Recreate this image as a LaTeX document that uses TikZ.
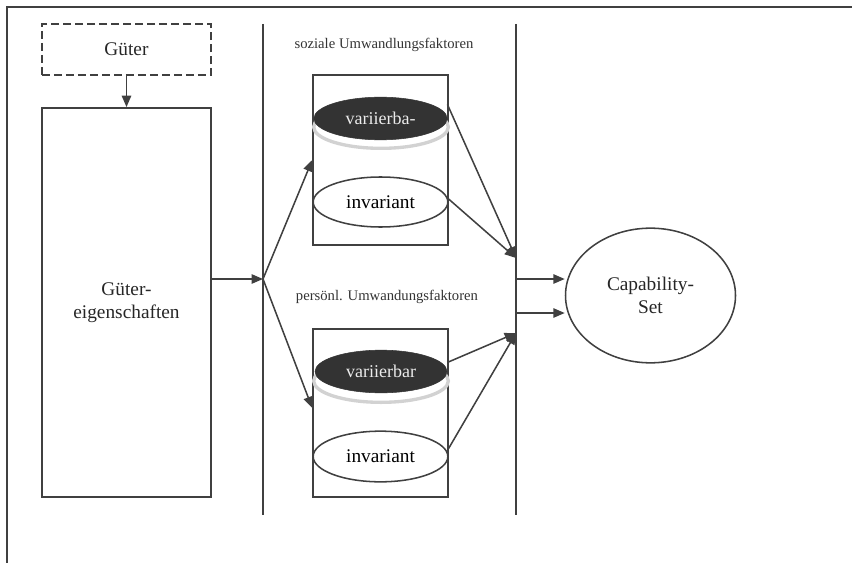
\documentclass[tikz,border=0pt]{standalone}
\usepackage{fontspec}
\setmainfont{Liberation Serif}
\usetikzlibrary{shapes.geometric,arrows.meta}
\definecolor{ink}{HTML}{404040}
\definecolor{darkfill}{HTML}{333333}
\tikzset{
  ln/.style={draw=ink,line width=1.15pt},
  arr/.style={ln,-{Triangle[length=8.5pt,width=7pt]}},
  box/.style={ln,rectangle,inner sep=0pt},
  oval/.style={ln,ellipse,inner sep=0pt,fill=white,font=\fontsize{14.5}{16}\selectfont},
  darkoval/.style={ellipse,inner sep=0pt,fill=darkfill,draw=darkfill,text=white!85!gray,font=\fontsize{13.5}{16}\selectfont},
  shadowoval/.style={ellipse,inner sep=0pt,fill=white,draw=gray!35,line width=2.5pt},
  lbl/.style={font=\fontsize{14.5}{17.5}\selectfont,align=center,text=black!85},
  hdr/.style={font=\fontsize{11}{13}\selectfont,text=black!80},
}
\begin{document}
\begin{tikzpicture}[x=0.75pt,y=-0.75pt]
\useasboundingbox (0,0) rectangle (852,563);
% frame (extends beyond the picture)
\draw[ln] (7,563) -- (7,7) -- (852,7);
% left column
\node[box,dashed,dash pattern=on 6pt off 3pt,minimum width=127pt,minimum height=38pt,lbl] (gueter) at (126.5,49.5) {Güter};
\node[box,minimum width=127pt,minimum height=292pt,lbl] (eig) at (126.5,302.5) {Güter-\\eigenschaften};
\draw[arr] (gueter.south) -- (eig.north);
% separators
\coordinate (l1t) at (263,24); \coordinate (l1b) at (263,515);
\coordinate (l2t) at (516,24); \coordinate (l2b) at (516,515);
\draw[ln] (l1t) -- (l1b);
\draw[ln] (l2t) -- (l2b);
% junction points
\coordinate (j1) at (263,279);
\coordinate (c1) at (516,258);
\coordinate (c2) at (516,333);
\coordinate (s1) at (516,279);
\coordinate (s2) at (516,313);
% headers
\node[hdr] (h1) at (384,45) {soziale Umwandlungsfaktoren};
\node[hdr] (h2) at (387,297) {persönl. Umwandungsfaktoren};
% upper box
\node[box,minimum width=101.25pt,minimum height=127.5pt] (b1) at (380.5,160) {};
\node[shadowoval,minimum width=101pt,minimum height=32pt] (sh1) at (381,127) {};
\node[darkoval,minimum width=100pt,minimum height=32pt] (v1) at (380.5,118.5) {variierba-};
\node[oval,minimum width=101pt,minimum height=37.5pt] (i1) at (380.5,202) {invariant};
% lower box
\node[box,minimum width=101.25pt,minimum height=126pt] (b2) at (380.5,413) {};
\node[shadowoval,minimum width=101pt,minimum height=32pt] (sh2) at (381,381) {};
\node[darkoval,minimum width=99pt,minimum height=32pt] (v2) at (381,371.5) {variierbar};
\node[oval,minimum width=101pt,minimum height=38pt] (i2) at (380.5,456.5) {invariant};
% capability set
\node[oval,minimum width=127.5pt,minimum height=101pt,lbl] (cap) at (650.5,295.5) {Capability-\\Set};
% connectors
\draw[arr] (eig.east |- j1) -- (j1);
\draw[arr] (j1) -- (b1.west |- 0,160);
\draw[arr] (j1) -- (b2.west |- 0,408);
\draw[arr] (v1.east) ++(0,-14) -- (c1);
\draw[arr] (i1.east) ++(0,-3) -- (c1);
\draw[arr] (v2.east) ++(0,-9) -- (c2);
\draw[arr] (i2.east) ++(0,-8) -- (c2);
\draw[arr] (s1) -- (s1 -| cap.west);
\draw[arr] (s2) -- (s2 -| cap.west);
\end{tikzpicture}
\end{document}
